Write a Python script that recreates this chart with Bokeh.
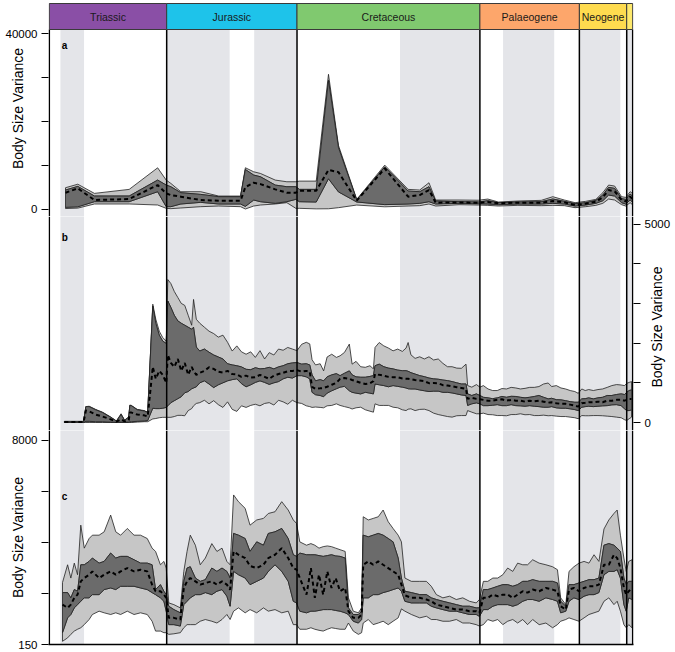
import math
from bokeh.plotting import figure
from bokeh.layouts import column
from bokeh.models import Range1d, FixedTicker, Label, Span, LinearAxis
from bokeh.embed import file_html
from bokeh.resources import INLINE
from bokeh.core.properties import value

FONT = "Liberation Sans"

# ---------------- geological time scale (Ma) ----------------
period_names = ["Triassic", "Jurassic", "Cretaceous", "Palaeogene", "Neogene", ""]
period_start = [252.0, 201.3, 145.0, 66.0, 23.03, 2.58]
period_end = [201.3, 145.0, 66.0, 23.03, 2.58, 0.0]
period_colors = ["#8a4fa6", "#1ec3ea", "#80c96f", "#fda66b", "#fedb4f", "#fee96d"]
boundaries = [252.0, 201.3, 145.0, 66.0, 23.03, 2.58, 0.0]

shade_start = [247.2, 201.3, 163.5, 100.5, 56.0, 23.03, 2.58]
shade_end = [237.0, 174.1, 145.0, 66.0, 33.9, 5.33, 0.0]

# ---------------- panel a ----------------
a_age = [245.0, 239.7, 232.5, 217.5, 205.2, 201.5, 199.5, 195.2, 186.6, 178.8,
         169.4, 167.3, 163.7, 160.8, 154.4, 149.4, 145.5, 144.0, 136.7, 131.4,
         127.1, 119.2, 107.1, 97.0, 92.0, 88.0, 85.1, 75.0, 66.5, 62.6,
         58.0, 49.6, 39.5, 34.5, 29.5, 24.9, 20.3, 15.9, 12.9, 10.4,
         7.8, 4.8, 3.0, 1.1, 0.1]
a_lo = [100, 200, 1140, 1140, 910, 150, 75, 230, 530, 680,
        530, 0, 680, 910, 1140, 1440, 150, 150, 30, 50,
        300, 900, 500, 680, 760, 1140, 680, 980, 900, 830,
        680, 830, 760, 830, 760, 300, 530, 830, 1290, 2270,
        2045, 985, 680, 1440, 985]
a_ilo = [380, 500, 1670, 1670, 3940, 530, 530, 1140, 1515, 1140,
         1140, 600, 2045, 1670, 1290, 1670, 2200, 1670, 1590, 6900,
         3900, 1600, 1000, 1140, 1290, 1670, 1140, 1290, 1200, 1140,
         985, 1136, 1136, 1288, 1136, 682, 909, 1288, 1894, 3182,
         2955, 1439, 1136, 2045, 1591]
a_med = [3710, 4700, 2045, 2270, 5455, 3560, 3180, 2800, 2045, 1900,
         1900, 5000, 5980, 5680, 4470, 3710, 3710, 4170, 4170, 8900,
         8400, 1900, 9240, 2800, 3180, 4320, 1440, 1500, 1400, 1590,
         1290, 1439, 1439, 1818, 1515, 909, 1212, 1667, 2652, 4318,
         4015, 2045, 1742, 2803, 2348]
a_ihi = [4320, 5150, 2955, 2955, 6590, 5455, 5075, 3710, 3330, 2800,
         2800, 9000, 7730, 7350, 5450, 5075, 5075, 4470, 4470, 29300,
         14000, 2050, 9600, 4090, 3940, 5075, 1820, 1670, 1600, 1894,
         1440, 1591, 1667, 2273, 1742, 1212, 1439, 1970, 3182, 4924,
         4697, 2348, 2197, 3409, 2955]
a_hi = [4850, 5650, 3560, 4470, 9390, 6590, 5830, 3940, 3940, 2950,
        2950, 9400, 8480, 8100, 6590, 6210, 6210, 6360, 6360, 30700,
        14500, 2200, 10000, 4470, 4320, 5980, 2045, 2045, 2000, 2270,
        1591, 1818, 1970, 2803, 2045, 1439, 1742, 2197, 3712, 5455,
        5227, 2803, 2652, 3939, 3561]
a_ticks = [0, 10000, 20000, 30000, 40000]
a_tick_labels = ["0", "", "", "", "40000"]

# ---------------- panel b ----------------
b_age = [245.5, 240.0, 237.2, 236.2, 234.8, 232.0, 229.0, 225.5, 223.0, 221.0, 219.5,
         217.7, 217.2, 216.5, 214.0, 211.0, 209.5, 207.3, 206.0, 204.5, 203.0, 201.5,
         200.8, 199.5, 198.0, 196.5, 195.0, 193.5, 192.0, 190.5, 189.7, 188.5,
         187.0, 185.0, 183.0, 181.0, 179.0, 177.0, 175.0, 173.0, 171.0, 169.0,
         167.0, 165.0, 163.0, 161.0, 159.0, 157.0, 155.0, 153.0, 151.0, 149.0, 147.0, 145.0,
         143.0, 141.0, 139.5, 138.5, 137.0, 135.0, 133.5, 132.0, 130.0, 128.0,
         126.4, 124.5, 122.4, 121.2, 119.5, 117.5, 115.5, 113.5, 112.0, 111.3,
         109.5, 107.5, 105.5, 103.5, 101.5, 99.5, 97.9, 97.0, 95.8, 94.0,
         92.0, 90.0, 88.0, 86.0, 84.0, 82.0, 80.0, 78.0, 76.0, 74.0,
         72.0, 71.3, 69.5, 67.5, 66.0,
         64.5, 62.5, 60.5, 58.5, 56.5, 54.5, 52.5, 50.5, 48.5, 46.5, 44.5,
         42.5, 40.5, 38.5, 36.5, 35.0, 33.0, 31.0, 29.0, 27.0, 25.0, 23.5,
         22.0, 20.5, 19.0, 17.0, 15.0, 13.0, 11.0, 9.0, 7.0, 5.0, 3.5, 2.6, 1.5, 0.5]
b_lo = [0, 0, 0, 0, 0, 0, 0, 0, 0, 0, 0,
        0, 0, 0, 10, 20, 20, 90, 100, 120, 130, 130,
        130, 130, 150, 180, 180, 170, 300, 350, 420, 480,
        500, 560, 470, 550, 450, 380, 520, 330, 280, 420,
        380, 430, 460, 420, 480, 500, 440, 560, 520, 460, 560, 500,
        480, 420, 400, 380, 390, 380, 370, 420, 430, 470,
        430, 400, 370, 340, 370, 385, 320, 285, 260, 470,
        430, 430, 430, 385, 370, 320, 300, 335, 345, 300,
        330, 335, 300, 235, 200, 175, 150, 135, 170, 175,
        175, 300, 260, 220, 220,
        235, 200, 195, 175, 175, 170, 200, 200, 220, 195, 200,
        175, 175, 185, 170, 175, 160, 150, 150, 135, 120, 95,
        175, 170, 170, 175, 175, 170, 160, 150, 135, 120, 70, 50, 95, 135]
b_ilo = [0, 0, 0, 30, 30, 20, 20, 10, 5, 10, 10,
         10, 20, 20, 30, 40, 50, 360, 350, 350, 360, 380,
         420, 500, 550, 600, 650, 750, 780, 850, 870, 900,
         1000, 1050, 970, 880, 950, 1000, 1050, 1080, 1100, 980,
         900, 950, 1010, 1050, 1010, 960, 1000, 1030, 1100, 1140, 1120, 1180,
         1180, 1150, 1100, 760, 700, 680, 650, 740, 800, 850,
         890, 910, 800, 760, 740, 720, 760, 740, 720, 970,
         950, 930, 900, 930, 910, 890, 870, 850, 845, 845,
         820, 800, 780, 790, 790, 760, 760, 745, 720, 695,
         680, 430, 470, 495, 470,
         425, 425, 435, 450, 425, 425, 450, 425, 420, 410, 425,
         410, 400, 385, 385, 400, 370, 360, 360, 345, 325, 300,
         385, 400, 410, 400, 410, 420, 425, 445, 450, 425, 345, 300, 300, 320]
b_med = [10, 10, 10, 300, 280, 200, 150, 80, 20, 80, 30,
         60, 250, 250, 200, 180, 150, 1400, 1100, 1300, 1200, 1000,
         1700, 1500, 1400, 1600, 1300, 1500, 1200, 1400, 1300, 1200,
         1250, 1300, 1390, 1350, 1280, 1260, 1300, 1220, 1210, 1150,
         1180, 1130, 1140, 1200, 1150, 1100, 1180, 1220, 1250, 1290, 1300, 1320,
         1280, 1300, 1280, 900, 850, 860, 870, 900, 950, 1000,
         1100, 1120, 1100, 1070, 1040, 1000, 970, 990, 1040, 1220,
         1200, 1180, 1150, 1140, 1140, 1110, 1100, 1100, 1090, 1070,
         1055, 1040, 990, 995, 990, 940, 930, 910, 890, 870,
         845, 595, 620, 595, 585,
         570, 550, 550, 575, 585, 550, 570, 550, 550, 525, 550,
         535, 550, 525, 500, 510, 485, 470, 470, 450, 425, 400,
         485, 495, 510, 510, 525, 510, 550, 550, 570, 575, 550, 570, 595, 595]
b_ihi = [20, 20, 20, 400, 400, 320, 250, 130, 35, 200, 55,
         130, 430, 420, 320, 290, 250, 2930, 2500, 2200, 2050, 1990,
         3060, 2900, 2700, 2560, 2500, 2450, 2400, 2350, 2400, 1900,
         1800, 1850, 1770, 1700, 1650, 1600, 1480, 1450, 1430, 1400,
         1340, 1330, 1380, 1350, 1360, 1390, 1350, 1400, 1430, 1480, 1500, 1510,
         1470, 1480, 1450, 1200, 1050, 1080, 1050, 1150, 1200, 1230,
         1180, 1240, 1300, 1200, 1150, 1140, 1140, 1160, 1180, 1430,
         1470, 1405, 1370, 1350, 1320, 1305, 1305, 1290, 1255, 1220,
         1180, 1155, 1120, 1100, 1090, 1070, 1055, 1030, 1000, 970,
         970, 720, 680, 720, 680,
         635, 620, 600, 620, 655, 635, 660, 655, 635, 620, 635,
         655, 680, 635, 595, 610, 575, 570, 550, 525, 510, 510,
         595, 600, 620, 595, 620, 635, 680, 680, 705, 720, 705, 760, 805, 820]
b_hi = [30, 30, 30, 400, 410, 330, 260, 140, 40, 220, 60,
        140, 440, 430, 330, 300, 260, 2980, 2600, 2300, 2140, 2050,
        3600, 3500, 3300, 3150, 3000, 2950, 2700, 2450, 3100, 2600,
        2500, 2400, 2300, 2240, 2150, 2200, 2020, 1800, 1930, 1780,
        1720, 1780, 1640, 1810, 1600, 1760, 1700, 1850, 1820, 1890, 1850, 1810,
        1970, 2020, 1980, 1580, 1450, 1480, 1300, 1650, 1720, 1640,
        1680, 1765, 1975, 1470, 1540, 1405, 1390, 1430, 1350, 1890,
        2015, 1930, 1875, 1805, 1850, 1790, 1875, 2015, 1705, 1615,
        1655, 1600, 1655, 1575, 1600, 1490, 1405, 1405, 1370, 1365,
        1470, 930, 890, 955, 890,
        930, 845, 805, 805, 855, 845, 885, 870, 845, 860, 885,
        885, 905, 970, 995, 905, 930, 870, 845, 805, 780, 735,
        845, 805, 830, 805, 830, 845, 885, 930, 955, 945, 930, 985, 1010, 1030]
b_ticks = [0, 1000, 2000, 3000, 4000, 5000]
b_tick_labels = ["0", "", "", "", "", "5000"]

# ---------------- panel c (natural-log axis) ----------------
c_age = [246.3, 244.1, 242.7, 241.2, 239.8, 238.4, 236.9, 234.8, 233.4, 230.5, 228.3, 225.5,
         223.3, 221.2, 218.3, 215.4, 212.6, 209.7, 207.6, 206.1, 204.0, 202.5, 201.5,
         200.4, 198.2, 195.4, 193.9, 192.5, 191.1, 188.9, 186.8, 184.6, 181.8, 179.6, 177.4, 175.3,
         173.9, 172.4, 170.3, 167.4, 165.3, 162.4, 159.5, 157.4, 154.5, 151.6, 148.8, 146.6, 145.2,
         143.8, 140.9, 139.0, 137.3, 135.5, 133.7, 131.9, 130.1, 128.3, 126.4,
         124.2, 122.8, 120.7, 118.5, 117.1, 116.4, 114.2, 112.1, 109.9, 107.8,
         105.6, 103.5, 101.3, 99.9, 98.4, 95.6, 92.0, 89.1, 87.0, 84.8,
         82.0, 79.1, 76.2, 73.4, 70.5, 67.6, 66.2,
         64.5, 62.6, 60.4, 58.3, 56.1, 54.0, 51.8, 49.7, 47.5, 45.4,
         43.2, 40.4, 37.5, 34.6, 32.5, 31.1, 28.9, 27.5, 25.4, 23.2,
         21.0, 18.9, 16.7, 14.6, 12.4, 10.3, 8.1, 6.7, 5.3, 3.8, 2.8, 1.7, 0.3]
c_lo = [158, 169, 181, 193, 200, 206, 219, 242, 267, 285, 276, 267,
        276, 267, 285, 267, 276, 267, 234, 193, 193, 187, 187,
        181, 183, 187, 206, 219, 219, 219, 234, 242, 234, 226, 242, 267,
        242, 285, 304, 276, 294, 276, 304, 285, 294, 276, 285, 219, 219,
        200, 200, 206, 200, 196, 193, 200, 206, 203, 200,
        200, 226, 193, 181, 187, 226, 242, 219, 226, 234,
        219, 234, 250, 298, 285, 267, 250, 258, 242, 242,
        234, 234, 242, 226, 226, 219, 213,
        219, 242, 234, 242, 219, 234, 242, 226, 242, 219,
        242, 219, 226, 206, 219, 234, 242, 250, 242, 234,
        250, 267, 276, 285, 346, 370, 324, 346, 285, 219, 206, 219, 206]
c_ilo = [187, 250, 267, 304, 324, 346, 370, 370, 394, 394, 435, 449,
         435, 464, 464, 464, 449, 435, 410, 394, 370, 346, 285,
         219, 219, 213, 324, 346, 370, 394, 394, 410, 394, 421, 435, 382,
         314, 621, 582, 545, 479, 511, 545, 621, 707, 621, 511, 346, 335,
         285, 276, 285, 285, 289, 294, 294, 294, 289, 285,
         276, 267, 234, 226, 242, 370, 370, 394, 394, 410,
         421, 435, 449, 421, 346, 335, 335, 335, 314, 304,
         294, 285, 285, 276, 267, 267, 258,
         294, 294, 314, 324, 324, 324, 314, 324, 346, 358,
         358, 346, 370, 358, 346, 276, 285, 346, 370, 358,
         382, 394, 394, 410, 582, 621, 621, 642, 545, 324, 285, 370, 358]
c_med = [324, 304, 324, 370, 394, 511, 545, 582, 621, 545, 582, 621,
         582, 621, 663, 621, 642, 621, 479, 421, 421, 394, 370,
         250, 250, 242, 449, 511, 545, 511, 479, 495, 511, 479, 511, 479,
         435, 918, 860, 806, 690, 663, 707, 806, 860, 979, 806, 663, 642,
         545, 394, 663, 370, 582, 394, 621, 449, 545, 421,
         449, 285, 250, 250, 267, 707, 755, 707, 755, 707,
         663, 621, 582, 479, 389, 370, 370, 358, 346, 324,
         314, 304, 294, 294, 285, 285, 276,
         370, 370, 394, 382, 394, 394, 370, 394, 421, 410,
         435, 421, 449, 435, 421, 314, 294, 435, 449, 421,
         449, 464, 464, 479, 707, 707, 860, 806, 663, 449, 394, 421, 449]
c_ihi = [410, 410, 370, 435, 421, 707, 707, 755, 806, 730, 755, 889,
         806, 833, 833, 780, 730, 730, 707, 435, 479, 421, 394,
         314, 294, 276, 511, 663, 680, 545, 511, 528, 663, 621, 663, 621,
         545, 1305, 1262, 1182, 918, 1107, 1037, 1305, 1348, 1439, 1182, 860, 833,
         889, 860, 860, 860, 846, 833, 846, 860, 840, 833,
         806, 304, 267, 267, 285, 1262, 1222, 1262, 1305, 1262,
         1182, 1107, 806, 545, 421, 410, 394, 394, 370, 358,
         346, 335, 324, 314, 314, 304, 304,
         435, 435, 449, 464, 479, 479, 464, 479, 511, 511,
         528, 511, 511, 511, 495, 346, 314, 479, 479, 495,
         511, 528, 528, 545, 1037, 1070, 1037, 979, 918, 545, 479, 511, 511]
c_hi = [500, 707, 545, 730, 582, 1536, 979, 1182, 1262, 1262, 1348, 1870,
        1348, 1262, 1439, 1262, 1262, 1182, 979, 918, 707, 755, 663,
        335, 324, 304, 621, 918, 1262, 1037, 707, 806, 1070, 918, 979, 755,
        707, 2773, 2432, 2133, 1536, 1700, 1752, 1930, 1997, 2432, 2065, 1700, 1588,
        1107, 1037, 1070, 1037, 979, 1008, 1022, 1008, 979, 950,
        918, 370, 285, 276, 304, 1810, 1700, 1752, 1810, 2065,
        1641, 1439, 1262, 1107, 545, 511, 511, 511, 464, 394,
        370, 382, 358, 370, 346, 335, 358,
        511, 511, 545, 545, 582, 663, 621, 730, 707, 707,
        780, 730, 707, 680, 642, 370, 324, 621, 680, 730,
        755, 730, 860, 755, 1425, 1700, 1930, 2065, 1262, 806, 621, 755, 780]
c_tick_ln = [5, 6, 7, 8, 9]
c_tick_labels = ["150", "", "", "", "8000"]

AXIS_TITLE = "Body Size Variance"

# ---------------- styling / layout (pixels) ----------------
W = 675
LB, RB = 48, 41
LIGHT, DARK, EDGE, SHADE = "#c6c6c6", "#6b6b6b", "#222222", "#e4e5e9"
X0, X1 = 252.35, -0.35

# figure A (header + panel a)
H_A = 216
HDR_TOP_PX, HDR_BOT_PX, A_TOP_PX, A_ZERO_PX = 3.0, 29.0, 33.0, 208.5
sA = (A_ZERO_PX - A_TOP_PX) / 40000.0
yA1 = 40000 + A_TOP_PX / sA
yA0 = -(H_A - A_ZERO_PX) / sA
hdr_top = 40000 + (A_TOP_PX - HDR_TOP_PX) / sA
hdr_bottom = 40000 + (A_TOP_PX - HDR_BOT_PX) / sA

# figure B
H_B = 214
B_TOP_PX, B_ZERO_PX = 7.5, 206.0
sB = (B_ZERO_PX - B_TOP_PX) / 5000.0
yB1 = 5000 + B_TOP_PX / sB
yB0 = -(H_B - B_ZERO_PX) / sB
B_TITLE_BOTTOM_PX = 171.0     # lower end of the rotated right-hand axis title

# figure C
H_CF, C_BOTTOM = 214, 7
C_TOP_PX = 9.7
pxln = (H_CF - C_TOP_PX) / 4.0
lnC1 = 9 + C_TOP_PX / pxln
yC0, yC1 = math.exp(5), math.exp(lnC1)


def make_fig(height, y_range, y_type="linear", y_loc="left", x_loc=None, bottom=0):
    p = figure(width=W, height=height, x_range=Range1d(X0, X1), y_range=y_range,
               y_axis_type=y_type, y_axis_location=y_loc, x_axis_location=x_loc,
               output_backend="svg", toolbar_location=None,
               min_border_left=LB, min_border_right=RB, min_border_top=0,
               min_border_bottom=bottom)
    p.grid.visible = False
    p.outline_line_color = None
    p.background_fill_color = "white"
    p.border_fill_color = "white"
    return p


def style_y(ax, ticks, labels, standoff, title_standoff=None):
    ax.ticker = FixedTicker(ticks=ticks)
    ax.major_label_overrides = dict(zip(ticks, labels))
    ax.major_tick_out = 7
    ax.major_tick_in = 0
    ax.major_tick_line_color = "black"
    ax.minor_tick_line_color = None
    ax.axis_line_color = None
    ax.major_label_text_font = FONT
    ax.major_label_text_font_size = "11.5px"
    ax.major_label_text_color = "black"
    ax.major_label_standoff = standoff
    if title_standoff is not None:
        ax.axis_label = AXIS_TITLE
        ax.axis_label_text_font = FONT
        ax.axis_label_text_font_size = "14px"
        ax.axis_label_text_font_style = "normal"
        ax.axis_label_text_color = "black"
        ax.axis_label_standoff = title_standoff


def draw_bands(p, age, lo, ilo, med, ihi, hi):
    xs = list(age) + list(age)[::-1]
    p.patch(xs, list(hi) + list(ihi)[::-1], fill_color=LIGHT, line_color=EDGE, line_width=0.8)
    p.patch(xs, list(ilo) + list(lo)[::-1], fill_color=LIGHT, line_color=EDGE, line_width=0.8)
    p.patch(xs, list(ihi) + list(ilo)[::-1], fill_color=DARK, line_color=EDGE, line_width=0.8)
    p.line(age, med, line_color="black", line_width=2, line_dash="4 3")


def panel_label(p, text, y):
    p.add_layout(Label(x=246.6, y=y, text=text, text_font=FONT, text_font_style="bold",
                       text_font_size="10px", text_baseline="middle", text_align="left",
                       text_color="black"))


# ---- figure A (header + panel a) ----
pA = make_fig(H_A, Range1d(yA0, yA1))
pA.quad(left=shade_start, right=shade_end, bottom=yA0 - 5000, top=hdr_bottom,
        fill_color=SHADE, line_color=None)
draw_bands(pA, a_age, a_lo, a_ilo, a_med, a_ihi, a_hi)
pA.segment(x0=boundaries, x1=boundaries, y0=[yA0 - 5000] * len(boundaries),
           y1=[hdr_bottom] * len(boundaries), line_color="black", line_width=1.5)
for ps, pe, pc in zip(period_start, period_end, period_colors):
    pA.quad(left=[ps], right=[pe], bottom=[hdr_bottom], top=[hdr_top],
            fill_color=pc, line_color="#3a3a3a", line_width=1)
mid = [(s + e) / 2.0 for s, e in zip(period_start, period_end)]
pA.text(x=mid, y=[(hdr_bottom + hdr_top) / 2.0] * len(mid), text=period_names,
        text_font=value(FONT), text_font_size=value("10.5px"), text_align="center",
        text_baseline="middle", text_color="#1a1a1a")
style_y(pA.yaxis[0], a_ticks, a_tick_labels, 4, -23)
panel_label(pA, "a", yA1 - 44.5 / sA)

# ---- figure B ----
pB = make_fig(H_B, Range1d(yB0, yB1), y_loc="right")
pB.quad(left=shade_start, right=shade_end, bottom=yB0 - 1000, top=yB1 + 1000,
        fill_color=SHADE, line_color=None)
draw_bands(pB, b_age, b_lo, b_ilo, b_med, b_ihi, b_hi)
for bx in boundaries:
    pB.add_layout(Span(location=bx, dimension="height", line_color="black", line_width=1.5))
style_y(pB.yaxis[0], b_ticks, b_tick_labels, 4)
# right-hand title, reading bottom-to-top, carried by a second (tick-less) right axis
b_title_at = yB1 - B_TITLE_BOTTOM_PX / sB
title_axis = LinearAxis(ticker=FixedTicker(ticks=[b_title_at]),
                        major_label_overrides={b_title_at: AXIS_TITLE},
                        major_label_orientation=math.pi / 2,
                        major_label_standoff=-17,
                        major_label_text_font=FONT, major_label_text_font_size="14px",
                        major_label_text_color="black",
                        major_tick_out=0, major_tick_in=0, major_tick_line_color=None,
                        minor_tick_line_color=None, axis_line_color=None)
pB.add_layout(title_axis, "right")
panel_label(pB, "b", yB1 - 20.5 / sB)

# ---- figure C ----
pC = make_fig(H_CF + C_BOTTOM, Range1d(yC0, yC1), y_type="log", x_loc="below", bottom=C_BOTTOM)
pC.quad(left=shade_start, right=shade_end, bottom=math.exp(4), top=math.exp(10),
        fill_color=SHADE, line_color=None)
draw_bands(pC, c_age, c_lo, c_ilo, c_med, c_ihi, c_hi)
for bx in boundaries:
    pC.add_layout(Span(location=bx, dimension="height", line_color="black", line_width=1.5))
c_ticks = [math.exp(k) for k in c_tick_ln]
style_y(pC.yaxis[0], c_ticks, c_tick_labels, 4, -17)
xa = pC.xaxis[0]
xa.ticker = FixedTicker(ticks=[])
xa.major_label_text_font_size = "0px"
xa.major_tick_out = 0
xa.major_tick_in = 0
xa.minor_tick_line_color = None
xa.major_label_standoff = 0
xa.axis_line_color = "black"
xa.axis_line_width = 1.5
panel_label(pC, "c", math.exp(lnC1 - 66.0 / pxln))

layout = column(pA, pB, pC, spacing=0)
open("out.html", "w").write(file_html(layout, INLINE))
